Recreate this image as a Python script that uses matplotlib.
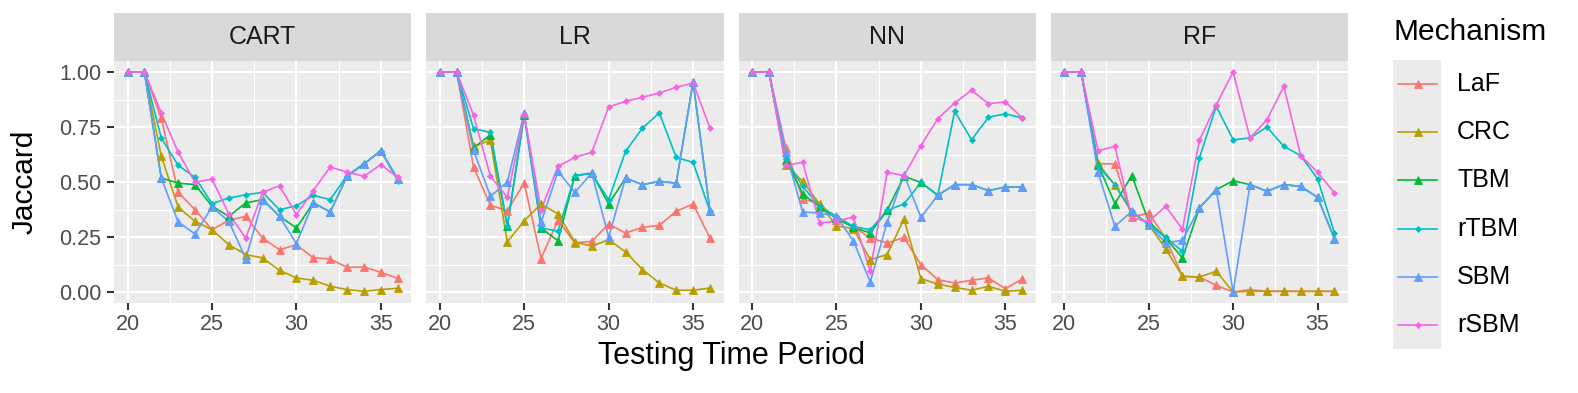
import matplotlib
matplotlib.use("Agg")
import matplotlib.pyplot as plt
from matplotlib.lines import Line2D
from matplotlib.patches import Rectangle

plt.rcParams['font.family'] = ['Liberation Sans', 'DejaVu Sans']

periods = list(range(20, 37))
models = ["CART", "LR", "NN", "RF"]
mechanisms = ["LaF", "CRC", "TBM", "rTBM", "SBM", "rSBM"]
colors = ["#F8766D", "#B79F00", "#00BA38", "#00BFC4", "#619CFF", "#F564E3"]
markers = ["^", "^", "^", "D", "^", "D"]

# ---------------- CART ----------------
cart_laf = [1, 1, 0.79, 0.453, 0.374, 0.283, 0.326, 0.344, 0.245, 0.192, 0.215, 0.155, 0.15, 0.112, 0.114, 0.089, 0.062]
cart_crc = [1, 1, 0.617, 0.386, 0.321, 0.283, 0.215, 0.17, 0.155, 0.098, 0.064, 0.053, 0.026, 0.011, 0.003, 0.011, 0.017]
cart_tbm = [1, 1, 0.518, 0.495, 0.488, 0.39, 0.344, 0.405, 0.42, 0.344, 0.291, 0.405, 0.364, 0.526, 0.582, 0.642, 0.514]
cart_rtbm = [1, 1, 0.70, 0.576, 0.521, 0.402, 0.427, 0.442, 0.453, 0.374, 0.392, 0.439, 0.42, 0.529, 0.583, 0.642, 0.506]
cart_sbm = [1, 1, 0.518, 0.318, 0.264, 0.386, 0.321, 0.152, 0.42, 0.344, 0.22, 0.405, 0.364, 0.526, 0.582, 0.642, 0.514]
cart_rsbm = [1, 1, 0.814, 0.635, 0.498, 0.514, 0.355, 0.245, 0.453, 0.483, 0.352, 0.461, 0.568, 0.545, 0.526, 0.579, 0.521]

# ---------------- LR ----------------
lr_laf = [1, 1, 0.568, 0.394, 0.37, 0.495, 0.152, 0.326, 0.223, 0.23, 0.309, 0.268, 0.294, 0.303, 0.367, 0.40, 0.245]
lr_crc = [1, 1, 0.662, 0.689, 0.227, 0.324, 0.40, 0.355, 0.227, 0.208, 0.238, 0.182, 0.102, 0.041, 0.008, 0.008, 0.018]
lr_tbm = [1, 1, 0.655, 0.715, 0.298, 0.806, 0.291, 0.233, 0.529, 0.541, 0.40, 0.518, 0.488, 0.503, 0.495, 0.955, 0.367]
lr_rtbm = [1, 1, 0.742, 0.726, 0.298, 0.806, 0.291, 0.276, 0.529, 0.538, 0.42, 0.639, 0.745, 0.814, 0.612, 0.589, 0.367]
lr_sbm = [1, 1, 0.644, 0.435, 0.50, 0.814, 0.317, 0.548, 0.453, 0.541, 0.25, 0.518, 0.488, 0.503, 0.495, 0.955, 0.367]
lr_rsbm = [1, 1, 0.803, 0.526, 0.43, 0.806, 0.374, 0.571, 0.612, 0.635, 0.841, 0.867, 0.885, 0.905, 0.93, 0.95, 0.745]

# ---------------- NN ----------------
nn_laf = [1, 1, 0.655, 0.423, 0.402, 0.329, 0.298, 0.245, 0.223, 0.248, 0.124, 0.056, 0.041, 0.053, 0.064, 0.015, 0.059]
nn_crc = [1, 1, 0.579, 0.503, 0.40, 0.30, 0.288, 0.147, 0.17, 0.332, 0.061, 0.036, 0.021, 0.008, 0.026, 0.003, 0.008]
nn_tbm = [1, 1, 0.60, 0.447, 0.386, 0.336, 0.294, 0.268, 0.371, 0.526, 0.498, 0.44, 0.488, 0.488, 0.461, 0.477, 0.477]
nn_rtbm = [1, 1, 0.605, 0.48, 0.39, 0.344, 0.298, 0.283, 0.371, 0.40, 0.498, 0.44, 0.821, 0.692, 0.794, 0.81, 0.791]
nn_sbm = [1, 1, 0.635, 0.364, 0.359, 0.344, 0.233, 0.045, 0.317, 0.533, 0.339, 0.44, 0.488, 0.488, 0.461, 0.477, 0.477]
nn_rsbm = [1, 1, 0.576, 0.589, 0.314, 0.321, 0.341, 0.094, 0.544, 0.529, 0.665, 0.788, 0.859, 0.917, 0.856, 0.864, 0.791]

# ---------------- RF ----------------
rf_laf = [1, 1, 0.583, 0.582, 0.34, 0.359, 0.245, 0.071, 0.068, 0.03, 0.0, 0.011, 0.003, 0.003, 0.003, 0.003, 0.003]
rf_crc = [1, 1, 0.586, 0.485, 0.364, 0.306, 0.197, 0.071, 0.068, 0.094, 0.0, 0.003, 0.003, 0.003, 0.003, 0.003, 0.003]
rf_tbm = [1, 1, 0.579, 0.402, 0.529, 0.32, 0.245, 0.155, 0.382, 0.465, 0.506, 0.488, 0.458, 0.488, 0.48, 0.43, 0.242]
rf_rtbm = [1, 1, 0.571, 0.488, 0.367, 0.306, 0.248, 0.185, 0.609, 0.844, 0.692, 0.70, 0.75, 0.662, 0.62, 0.514, 0.268]
rf_sbm = [1, 1, 0.544, 0.298, 0.367, 0.306, 0.223, 0.235, 0.382, 0.465, 0.0, 0.488, 0.458, 0.488, 0.48, 0.43, 0.242]
rf_rsbm = [1, 1, 0.642, 0.662, 0.336, 0.321, 0.389, 0.286, 0.689, 0.852, 1.0, 0.70, 0.783, 0.935, 0.62, 0.544, 0.45]

data = {
    "CART": [cart_laf, cart_crc, cart_tbm, cart_rtbm, cart_sbm, cart_rsbm],
    "LR": [lr_laf, lr_crc, lr_tbm, lr_rtbm, lr_sbm, lr_rsbm],
    "NN": [nn_laf, nn_crc, nn_tbm, nn_rtbm, nn_sbm, nn_rsbm],
    "RF": [rf_laf, rf_crc, rf_tbm, rf_rtbm, rf_sbm, rf_rsbm],
}

W, H = 1578, 393
fig = plt.figure(figsize=(W / 100, H / 100), dpi=100)

def fx(px):
    return px / W

def fy(py):
    return (H - py) / H

panel_w = 297.25
gap = 15
left0 = 114
p_top, p_bot = 61, 303
s_top = 13

marker_sizes = {"^": 6.0, "D": 3.0}

for i, m in enumerate(models):
    l = left0 + i * (panel_w + gap)
    ax = fig.add_axes([fx(l), fy(p_bot), panel_w / W, (p_bot - p_top) / H])
    ax.set_facecolor("#EBEBEB")
    for s in ax.spines.values():
        s.set_visible(False)
    ax.set_xlim(19.2, 36.8)
    ax.set_ylim(-0.05, 1.05)
    ax.set_xticks([20, 25, 30, 35])
    ax.set_xticks([22.5, 27.5, 32.5], minor=True)
    ax.set_yticks([0, 0.25, 0.5, 0.75, 1.0])
    ax.set_yticks([0.125, 0.375, 0.625, 0.875], minor=True)
    ax.grid(which="major", color="white", lw=1.5, zorder=0)
    ax.grid(which="minor", color="white", lw=0.75, zorder=0)
    ax.set_axisbelow(True)
    ax.tick_params(axis="x", which="major", length=5, width=1.5, color="#333333",
                   labelsize=15.5, labelcolor="#4D4D4D", pad=3)
    ax.tick_params(axis="both", which="minor", length=0)
    if i == 0:
        ax.set_yticklabels(["0.00", "0.25", "0.50", "0.75", "1.00"])
        ax.tick_params(axis="y", which="major", length=5, width=1.5, color="#333333",
                       labelsize=15.5, labelcolor="#4D4D4D", pad=4)
    else:
        ax.tick_params(axis="y", which="major", length=0, labelleft=False)

    series = data[m]
    for k, (vals, c) in enumerate(zip(series, colors)):
        ax.plot(periods, vals, color=c, lw=1.2, zorder=2 + k * 0.01)
    for k, (vals, c, mk) in enumerate(zip(series, colors, markers)):
        ax.plot(periods, vals, ls="none", marker=mk, ms=marker_sizes[mk],
                mfc=c, mec=c, mew=0.6, zorder=3 + k * 0.01)

    # strip
    sax = fig.add_axes([fx(l), fy(p_top), panel_w / W, (p_top - s_top) / H])
    sax.set_facecolor("#D9D9D9")
    sax.set_xticks([])
    sax.set_yticks([])
    for s in sax.spines.values():
        s.set_visible(False)
    sax.text(0.5, 0.5, m, ha="center", va="center", fontsize=18, color="#1A1A1A",
             transform=sax.transAxes)

# axis titles
fig.text(fx((left0 + 1348) / 2), fy(356), "Testing Time Period", ha="center", va="center",
         fontsize=22, color="black")
fig.text(fx(25), fy(182), "Jaccard", ha="center", va="center", rotation=90,
         fontsize=21.5, color="black")

# legend (manual, ggplot style)
fig.text(fx(1394), fy(32), "Mechanism", ha="left", va="center", fontsize=21.5, color="black")
fig.patches.append(Rectangle((fx(1393), fy(349)), (1441 - 1393) / W, (349 - 60) / H,
                             transform=fig.transFigure, facecolor="#EBEBEB",
                             edgecolor="none", zorder=0))
ys = [84, 132, 180, 229, 277, 325]
for name, c, mk, yy in zip(mechanisms, colors, markers, ys):
    fig.add_artist(Line2D([fx(1398), fx(1437)], [fy(yy), fy(yy)], color=c, lw=1.2,
                          transform=fig.transFigure))
    fig.add_artist(Line2D([fx(1417.5)], [fy(yy)], ls="none", marker=mk, ms=marker_sizes[mk],
                          mfc=c, mec=c, mew=0.6, transform=fig.transFigure))
    fig.text(fx(1457), fy(yy), name, ha="left", va="center", fontsize=18, color="black")

fig.savefig("out.png", dpi=100)
